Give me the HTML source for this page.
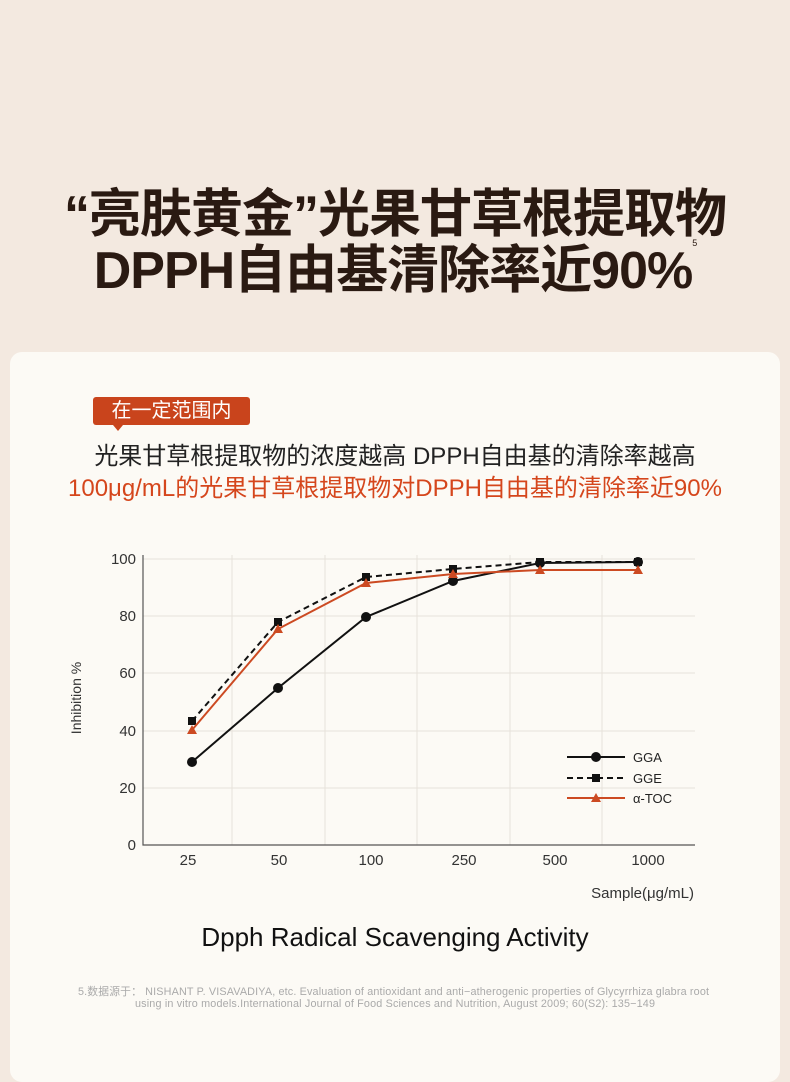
<!DOCTYPE html>
<html><head><meta charset="utf-8"><style>
body{margin:0;width:790px;height:1066px;background:#f3e9e0;position:relative;overflow:hidden;font-family:"Liberation Sans","Noto Sans CJK SC",sans-serif}
.t{position:absolute;left:0;width:790px;text-align:center;color:#2a1a12;font-weight:bold;font-size:52px;letter-spacing:-1px}
.card{position:absolute;left:10px;top:352px;width:770px;height:730px;background:#fcfaf5;border-radius:12px}
.badge{position:absolute;left:93px;top:397px;width:157px;height:28px;background:#c9441c;color:#fff;font-size:20px;line-height:28px;text-align:center;border-radius:3px}
.badge:after{content:"";position:absolute;left:20px;bottom:-6px;border-left:5px solid transparent;border-right:5px solid transparent;border-top:6px solid #c9441c}
.l{position:absolute;left:0;width:790px;text-align:center;font-size:24px}
</style></head><body>
<div class="t" style="top:172px">“亮肤黄金”光果甘草根提取物</div>
<div class="t" style="top:228px">DPPH自由基清除率近90%<sup style="font-size:9px;font-weight:normal;vertical-align:top;position:relative;top:10px">5</sup></div>
<div class="card"></div>
<div class="badge">在一定范围内</div>
<div class="l" style="top:436px;color:#222">光果甘草根提取物的浓度越高 DPPH自由基的清除率越高</div>
<div class="l" style="top:468px;color:#d5461c">100μg/mL的光果甘草根提取物对DPPH自由基的清除率近90%</div>
<svg style="position:absolute;left:0;top:0" width="790" height="1066" font-family="Liberation Sans, sans-serif">
<g stroke="#e6e2da" stroke-width="1">
<line x1="143" y1="559" x2="695" y2="559"/><line x1="143" y1="616" x2="695" y2="616"/><line x1="143" y1="673" x2="695" y2="673"/><line x1="143" y1="731" x2="695" y2="731"/><line x1="143" y1="788" x2="695" y2="788"/>
<line x1="232" y1="555" x2="232" y2="845"/><line x1="325" y1="555" x2="325" y2="845"/><line x1="417" y1="555" x2="417" y2="845"/><line x1="510" y1="555" x2="510" y2="845"/><line x1="602" y1="555" x2="602" y2="845"/>
</g>
<polyline points="143,555 143,845 695,845" fill="none" stroke="#555" stroke-width="1.2"/>
<g font-size="15" fill="#333" text-anchor="end">
<text x="136" y="564">100</text><text x="136" y="621">80</text><text x="136" y="678">60</text><text x="136" y="736">40</text><text x="136" y="793">20</text><text x="136" y="850">0</text></g>
<g font-size="15" fill="#333" text-anchor="middle">
<text x="188" y="865">25</text><text x="279" y="865">50</text><text x="371" y="865">100</text><text x="464" y="865">250</text><text x="555" y="865">500</text><text x="648" y="865">1000</text></g>
<text x="694" y="898" font-size="15" fill="#333" text-anchor="end">Sample(μg/mL)</text>
<text transform="translate(81,698) rotate(-90)" font-size="14" fill="#333" text-anchor="middle">Inhibition %</text>
<polyline points="192,721 278,622 366,577 453,569 540,562 638,562" fill="none" stroke="#111" stroke-width="2" stroke-dasharray="6,4"/>
<g fill="#111"><rect x="188" y="717" width="8" height="8"/><rect x="274" y="618" width="8" height="8"/><rect x="362" y="573" width="8" height="8"/><rect x="449" y="565" width="8" height="8"/><rect x="536" y="558" width="8" height="8"/><rect x="634" y="558" width="8" height="8"/></g>
<polyline points="192,762 278,688 366,617 453,581 540,563 638,562" fill="none" stroke="#111" stroke-width="2"/>
<g fill="#111"><circle cx="192" cy="762" r="5"/><circle cx="278" cy="688" r="5"/><circle cx="366" cy="617" r="5"/><circle cx="453" cy="581" r="5"/><circle cx="540" cy="563" r="5"/><circle cx="638" cy="562" r="5"/></g>
<polyline points="192,730 278,629 366,583 453,574 540,570 638,570" fill="none" stroke="#cc4a22" stroke-width="2"/>
<g fill="#cc4a22"><path d="M192 725l5 9h-10z"/><path d="M278 624l5 9h-10z"/><path d="M366 578l5 9h-10z"/><path d="M453 569l5 9h-10z"/><path d="M540 565l5 9h-10z"/><path d="M638 565l5 9h-10z"/></g>
<line x1="567" y1="757" x2="625" y2="757" stroke="#111" stroke-width="2"/><circle cx="596" cy="757" r="5" fill="#111"/>
<line x1="567" y1="778" x2="625" y2="778" stroke="#111" stroke-width="2" stroke-dasharray="6,4"/><rect x="592" y="774" width="8" height="8" fill="#111"/>
<line x1="567" y1="798" x2="625" y2="798" stroke="#cc4a22" stroke-width="2"/><path d="M596 793l5 9h-10z" fill="#cc4a22"/>
<g font-size="13" fill="#222"><text x="633" y="762">GGA</text><text x="633" y="783">GGE</text><text x="633" y="803">α-TOC</text></g>
<text x="395" y="946" font-size="26" fill="#111" text-anchor="middle">Dpph Radical Scavenging Activity</text>
<g font-size="10.8" fill="#aaa"><text x="78" y="995" textLength="631">5.数据源于：  NISHANT P. VISAVADIYA, etc. Evaluation of antioxidant and anti−atherogenic properties of Glycyrrhiza glabra root</text>
<text x="135" y="1007" textLength="520">using in vitro models.International Journal of Food Sciences and Nutrition, August 2009; 60(S2): 135−149</text></g>
</svg>
</body></html>
